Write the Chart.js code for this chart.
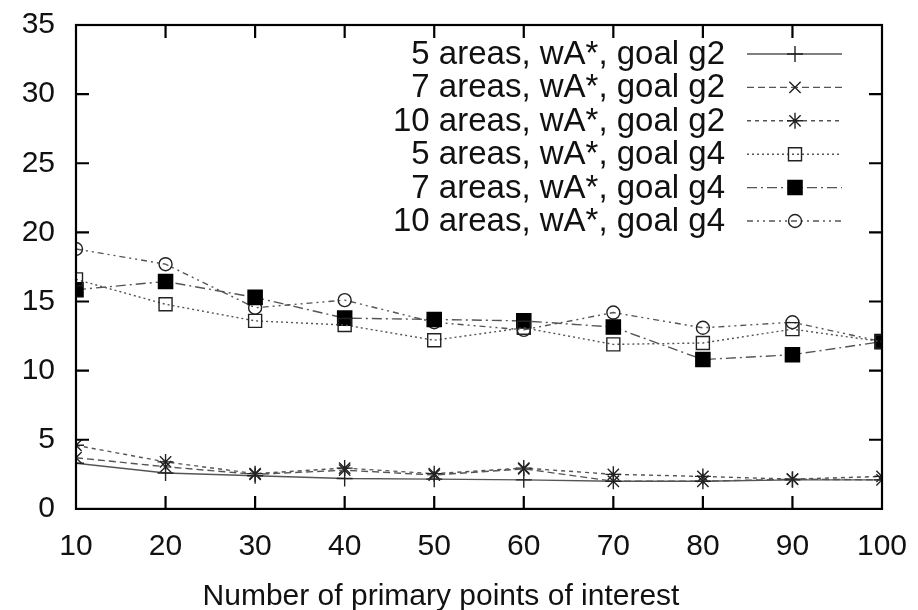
<!DOCTYPE html>
<html>
<head>
<meta charset="utf-8">
<script src="https://cdn.jsdelivr.net/npm/chart.js@4.4.1/dist/chart.umd.min.js"></script>
<style>
html,body{margin:0;padding:0;background:#fff;}
#wrap{width:918px;height:610px;position:relative;}
</style>
</head>
<body>
<div id="wrap"><canvas id="c" width="918" height="610"></canvas></div>
<script>
const xValues = [10, 20, 30, 40, 50, 60, 70, 80, 90, 100];
const yTicks = [0, 5, 10, 15, 20, 25, 30, 35];
const labels5g2 = "5 areas, wA*, goal g2";
const labels7g2 = "7 areas, wA*, goal g2";
const labels10g2 = "10 areas, wA*, goal g2";
const labels5g4 = "5 areas, wA*, goal g4";
const labels7g4 = "7 areas, wA*, goal g4";
const labels10g4 = "10 areas, wA*, goal g4";
const g2_5 = [3.3, 2.6, 2.4, 2.2, 2.15, 2.1, 2.0, 2.0, 2.1, 2.1];
const g2_7 = [3.7, 3.05, 2.5, 2.8, 2.45, 2.9, 2.0, 2.0, 2.15, 2.1];
const g2_10 = [4.6, 3.4, 2.55, 2.95, 2.55, 2.95, 2.5, 2.35, 2.15, 2.35];
const g4_5 = [16.6, 14.8, 13.6, 13.3, 12.2, 13.1, 11.9, 12.0, 13.0, 12.1];
const g4_7 = [15.85, 16.45, 15.3, 13.8, 13.7, 13.6, 13.15, 10.8, 11.15, 12.1];
const g4_10 = [18.8, 17.7, 14.55, 15.1, 13.5, 12.95, 14.2, 13.1, 13.5, 12.1];
const xTitle = "Number of primary points of interest";

const FONT = "'Liberation Sans', Arial, Helvetica, sans-serif";
const toPts = arr => arr.map((v, i) => ({x: xValues[i], y: v}));

function ds(label, data, dash, style, radius, fill) {
  return {
    label, data: toPts(data),
    borderColor: '#555', borderWidth: 1.4, borderDash: dash,
    pointStyle: style, pointRadius: radius, pointHoverRadius: radius,
    pointBorderColor: '#222', pointBorderWidth: 1.4,
    pointBackgroundColor: fill, backgroundColor: fill,
    tension: 0, fill: false
  };
}

const datasets = [
  ds(labels5g2, g2_5, [], 'cross', 8, 'rgba(0,0,0,0)'),
  ds(labels7g2, g2_7, [7, 4], 'crossRot', 8, 'rgba(0,0,0,0)'),
  ds(labels10g2, g2_10, [4, 4], 'star', 8, 'rgba(0,0,0,0)'),
  ds(labels5g4, g4_5, [2, 3], 'rect', 9.2, 'rgba(0,0,0,0)'),
  ds(labels7g4, g4_7, [10, 4, 2, 4], 'rect', 10, '#000'),
  ds(labels10g4, g4_10, [6, 4, 2, 4, 2, 4], 'circle', 6.5, 'rgba(0,0,0,0)')
];
datasets[4].pointBorderColor = '#000';

const framePlugin = {
  id: 'frame',
  afterDatasetsDraw(chart) {
    const {ctx, chartArea: a, scales} = chart;
    ctx.save();
    ctx.strokeStyle = '#000';
    ctx.lineWidth = 2.2;
    ctx.setLineDash([]);
    ctx.strokeRect(a.left, a.top, a.right - a.left, a.bottom - a.top);
    const L = 13;
    ctx.beginPath();
    scales.y.ticks.forEach(t => {
      if (t.value <= scales.y.min || t.value >= scales.y.max) return;
      const py = scales.y.getPixelForValue(t.value);
      ctx.moveTo(a.left, py); ctx.lineTo(a.left + L, py);
      ctx.moveTo(a.right, py); ctx.lineTo(a.right - L, py);
    });
    scales.x.ticks.forEach(t => {
      if (t.value <= scales.x.min || t.value >= scales.x.max) return;
      const px = scales.x.getPixelForValue(t.value);
      ctx.moveTo(px, a.bottom); ctx.lineTo(px, a.bottom - L);
      ctx.moveTo(px, a.top); ctx.lineTo(px, a.top + L);
    });
    ctx.stroke();
    ctx.restore();
  },
  afterDraw(chart) {
    const {ctx} = chart;
    ctx.save();
    ctx.font = "33px " + FONT;
    ctx.textAlign = 'right';
    ctx.textBaseline = 'middle';
    chart.data.datasets.forEach((d, i) => {
      const y = 54 + i * 33.4;
      ctx.fillStyle = '#111';
      ctx.fillText(d.label, 725, y + 1);
      ctx.strokeStyle = d.borderColor;
      ctx.lineWidth = d.borderWidth;
      ctx.setLineDash(d.borderDash);
      ctx.beginPath();
      ctx.moveTo(747, y); ctx.lineTo(842, y);
      ctx.stroke();
      ctx.setLineDash([]);
      ctx.strokeStyle = d.pointBorderColor;
      ctx.fillStyle = d.pointBackgroundColor;
      ctx.lineWidth = d.pointBorderWidth;
      Chart.helpers.drawPoint(ctx, {pointStyle: d.pointStyle, radius: d.pointRadius, borderWidth: d.pointBorderWidth, rotation: 0}, 795, y);
    });
    ctx.restore();
  }
};

new Chart(document.getElementById('c'), {
  type: 'line',
  data: {datasets},
  options: {
    responsive: false,
    animation: false,
    events: [],
    layout: {padding: {top: 25, right: 36, left: 0, bottom: 0}},
    plugins: {
      legend: {display: false},
      tooltip: {enabled: false},
      title: {
        display: true, position: 'bottom', text: xTitle,
        color: '#111', font: {family: FONT, size: 30, weight: 'normal', lineHeight: 0.87},
        padding: {top: 10, bottom: 0}
      }
    },
    scales: {
      x: {
        type: 'linear', min: 10, max: 100,
        afterBuildTicks: s => { s.ticks = xValues.map(v => ({value: v})); },
        afterFit: s => { s.height = 65; s.paddingLeft = 0; s.paddingRight = 0; },
        grid: {display: false, drawTicks: false},
        border: {display: false},
        ticks: {color: '#111', padding: 20, font: {family: FONT, size: 30}, maxRotation: 0, autoSkip: false}
      },
      y: {
        type: 'linear', min: 0, max: 35,
        afterBuildTicks: s => { s.ticks = yTicks.map(v => ({value: v})); },
        afterFit: s => { s.width = 76; s.paddingTop = 0; s.paddingBottom = 0; },
        grid: {display: false, drawTicks: false},
        border: {display: false},
        ticks: {color: '#111', padding: 21, font: {family: FONT, size: 30}}
      }
    }
  },
  plugins: [framePlugin]
});
</script>
</body>
</html>
